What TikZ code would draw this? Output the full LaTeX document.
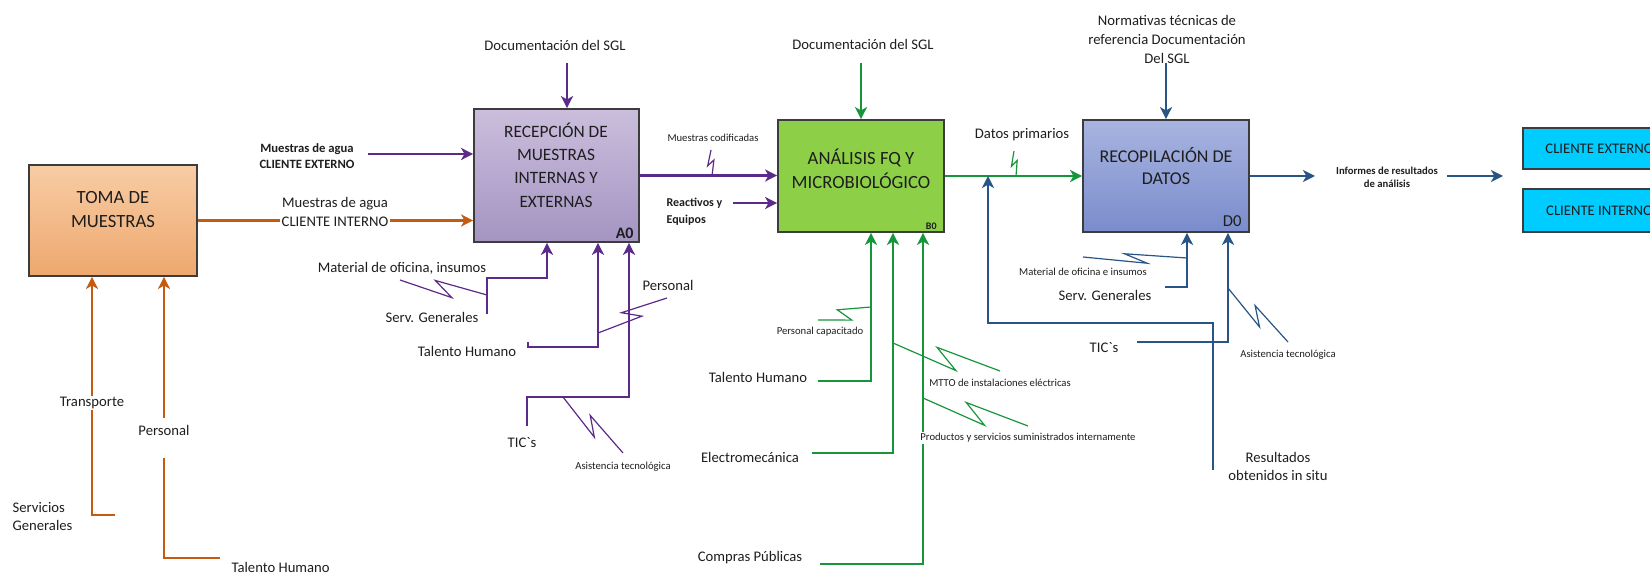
\documentclass[tikz,border=0pt]{standalone}
\usepackage{fontspec}
\setmainfont{Carlito}
\usetikzlibrary{arrows.meta,calc}

\definecolor{cpur}{RGB}{92,42,138}
\definecolor{corg}{RGB}{197,90,17}
\definecolor{cgrn}{RGB}{22,150,58}
\definecolor{cblu}{RGB}{40,84,134}
\definecolor{txt}{RGB}{30,30,30}
\definecolor{edge}{RGB}{60,60,60}
\definecolor{tomaTop}{RGB}{248,204,164}
\definecolor{tomaBot}{RGB}{237,168,110}
\definecolor{recTop}{RGB}{202,190,220}
\definecolor{recBot}{RGB}{164,148,194}
\definecolor{anaFill}{RGB}{141,208,72}
\definecolor{recoTop}{RGB}{168,180,224}
\definecolor{recoBot}{RGB}{122,140,204}
\definecolor{cliFill}{RGB}{0,204,255}

% squiggle ("lightning") that ties a label to its line
\newcommand\zz[3][9]{\draw[sq] (#2) -- ($(#2)!0.62!-#1:(#3)$) -- ($(#2)!0.40!#1:(#3)$) -- (#3);}

\begin{document}
\begin{tikzpicture}[x=0.75pt,y=-0.75pt,
  box/.style={draw=edge,line width=1.3pt,inner sep=0pt},
  ttl/.style={text=txt,align=center,inner sep=0pt},
  lbl/.style={text=txt,font=\fontsize{11}{14}\selectfont,inner sep=1pt,align=center},
  wlbl/.style={lbl,fill=white},
  sml/.style={text=txt,font=\fontsize{8}{10}\selectfont,inner sep=1pt,align=center},
  smb/.style={text=txt,font=\bfseries\fontsize{9}{12.5}\selectfont,inner sep=1pt,align=left},
  wire/.style={line width=1.9pt},
  arr/.style={wire,-{Stealth[length=9pt,width=9pt,inset=2.5pt]}},
  sq/.style={line width=0.9pt},
  P/.style={draw=cpur,color=cpur},
  O/.style={draw=corg,color=corg},
  G/.style={draw=cgrn,color=cgrn},
  B/.style={draw=cblu,color=cblu}]
\useasboundingbox (0,0) rectangle (1650,573);

% ---------- activity boxes ----------
\node[box,minimum width=126pt,minimum height=83.25pt,top color=tomaTop,bottom color=tomaBot] (toma) at (113,220.5) {};
\node[ttl,font=\fontsize{14}{18}\selectfont] (tomaT) at (113,210) {TOMA DE\\MUESTRAS};

\node[box,minimum width=123.75pt,minimum height=99.75pt,top color=recTop,bottom color=recBot] (a0) at (556.5,175.5) {};
\node[ttl,font=\fontsize{13}{17.5}\selectfont] (a0T) at (556,165) {RECEPCIÓN DE\\MUESTRAS\\INTERNAS Y\\EXTERNAS};
\node[ttl,font=\bfseries\fontsize{12}{14}\selectfont,anchor=south east] (a0C) at ($(a0.south east)+(-6,-4)$) {A0};

\node[box,minimum width=124.5pt,minimum height=84pt,fill=anaFill] (b0) at (861,176) {};
\node[ttl,font=\fontsize{14}{18}\selectfont] (b0T) at (861,169) {ANÁLISIS FQ Y\\MICROBIOLÓGICO};
\node[ttl,font=\bfseries\fontsize{7.5}{9}\selectfont,anchor=south east] (b0C) at ($(b0.south east)+(-8,-3)$) {B0};

\node[box,minimum width=124.5pt,minimum height=84pt,top color=recoTop,bottom color=recoBot] (d0) at (1166,176) {};
\node[ttl,font=\fontsize{13.5}{16.5}\selectfont] (d0T) at (1166,166) {RECOPILACIÓN DE\\DATOS};
\node[ttl,font=\fontsize{12.5}{14}\selectfont,anchor=south east] (d0C) at ($(d0.south east)+(-8,-6)$) {D0};

\begin{scope}
\clip (0,0) rectangle (1650,573);
\node[box,minimum width=114.75pt,minimum height=30.75pt,fill=cliFill,font=\fontsize{11}{13}\selectfont,text=txt] (cliE) at (1599.5,148.5) {CLIENTE EXTERNO};
\node[box,minimum width=114.75pt,minimum height=32.25pt,fill=cliFill,font=\fontsize{11}{13}\selectfont,text=txt] (cliI) at (1599.5,210.5) {CLIENTE INTERNO};
\end{scope}

% ---------- bend points ----------
\coordinate (trF) at (115,515);  \coordinate (trC) at (92,515);
\coordinate (peF) at (220,558);  \coordinate (peC) at (164,558);
\coordinate (peG1) at (164,458); \coordinate (peG2) at (164,418);
\coordinate (ceS) at (368,154);
\coordinate (docAS) at (567,63);
\coordinate (maS) at (487,314);  \coordinate (maK) at (487,278); \coordinate (maK2) at (547,278);
\coordinate (thA1) at (528,342); \coordinate (thA2) at (528,347); \coordinate (thA3) at (598,347);
\coordinate (tiA1) at (527,426); \coordinate (tiA2) at (527,397); \coordinate (tiA3) at (629,397);
\coordinate (reS) at (733,203);
\coordinate (docBS) at (861,63);
\coordinate (thB1) at (818,381); \coordinate (thB2) at (871,381);
\coordinate (emB1) at (812,453); \coordinate (emB2) at (893,453);
\coordinate (cpB1) at (820,564); \coordinate (cpB2) at (923,564);
\coordinate (noS) at (1166,63);
\coordinate (outE) at (1315,176);
\coordinate (inS) at (1447,176); \coordinate (inE) at (1503,176);
\coordinate (rs1) at (1213,470); \coordinate (rs2) at (1213,323); \coordinate (rs3) at (988,323);
\coordinate (sgD1) at (1165,287); \coordinate (sgD2) at (1187,287);
\coordinate (tiD1) at (1137,342); \coordinate (tiD2) at (1228,342);

% ---------- orange connectors ----------
\draw[arr,O] (toma.east) -- (toma.east -| a0.west);
\draw[arr,O] (trF) -- (trC) -- (trC |- toma.south);
\draw[wire,O] (peF) -- (peC) -- (peG1);
\draw[arr,O] (peG2) -- (peG2 |- toma.south);

% ---------- purple connectors ----------
\draw[arr,P] (ceS) -- (ceS -| a0.west);
\draw[arr,P] (docAS) -- (docAS |- a0.north);
\draw[arr,P] (maS) -- (maK) -- (maK2) -- (maK2 |- a0.south);
\draw[arr,P] (thA1) -- (thA2) -- (thA3) -- (thA3 |- a0.south);
\draw[arr,P] (tiA1) -- (tiA2) -- (tiA3) -- (tiA3 |- a0.south);
\draw[arr,P] (a0.east) -- (a0.east -| b0.west);
\draw[arr,P] (reS) -- (reS -| b0.west);

% ---------- green connectors ----------
\draw[arr,G] (docBS) -- (docBS |- b0.north);
\draw[arr,G] (b0.east) -- (b0.east -| d0.west);
\draw[arr,G] (thB1) -- (thB2) -- (thB2 |- b0.south);
\draw[arr,G] (emB1) -- (emB2) -- (emB2 |- b0.south);
\draw[arr,G] (cpB1) -- (cpB2) -- (cpB2 |- b0.south);

% ---------- blue connectors ----------
\draw[arr,B] (noS) -- (noS |- d0.north);
\draw[arr,B] (d0.east) -- (outE);
\draw[arr,B] (inS) -- (inE);
\draw[arr,B] (rs1) -- (rs2) -- (rs3) -- (rs3 |- b0.east);
\draw[arr,B] (sgD1) -- (sgD2) -- (sgD2 |- d0.south);
\draw[arr,B] (tiD1) -- (tiD2) -- (tiD2 |- d0.south);

% ---------- squiggles ----------
\coordinate (zM1) at (400,280);  \coordinate (zM2) at (487,295);
\coordinate (zP1) at (667,298);  \coordinate (zP2) at (598,333);
\coordinate (zT1) at (563,397);  \coordinate (zT2) at (623,453);
\coordinate (zC1) at (711,150);  \coordinate (zC2) at (712,176);
\coordinate (zD1) at (1014,151); \coordinate (zD2) at (1016,176);
\coordinate (zK1) at (818,320);  \coordinate (zK2) at (871,307);
\coordinate (zE1) at (893,343);  \coordinate (zE2) at (1000,371);
\coordinate (zS1) at (923,398);  \coordinate (zS2) at (1028,426);
\coordinate (zI1) at (1083,257); \coordinate (zI2) at (1187,258);
\coordinate (zA1) at (1228,288); \coordinate (zA2) at (1288,342);
\begin{scope}[P]
\zz{zM1}{zM2} \zz{zP1}{zP2} \zz{zT1}{zT2} \zz[14]{zC1}{zC2}
\end{scope}
\begin{scope}[G]
\zz[14]{zD1}{zD2} \zz[14]{zK1}{zK2} \zz{zE1}{zE2} \zz{zS1}{zS2}
\end{scope}
\begin{scope}[B]
\zz[5]{zI1}{zI2} \zz{zA1}{zA2}
\end{scope}

% ---------- labels ----------
\node[wlbl,font=\fontsize{11}{14.25}\selectfont] (lCI) at (335,212) {Muestras de agua\\CLIENTE INTERNO};
\node[smb,font=\bfseries\fontsize{9.5}{12}\selectfont,align=center] (lCE) at (307,156) {Muestras de agua\\CLIENTE EXTERNO};
\node[wlbl] (lTr) at (92,403) {Transporte};
\node[lbl,anchor=west,align=left] (lSG) at (11,516.5) {Servicios\\Generales};
\node[lbl] (lPe) at (164,430) {Personal};
\node[lbl,anchor=west] (lTH) at (230,567) {Talento Humano};

\node[lbl] (lDocA) at (555,45) {Documentación del SGL};
\node[lbl] (lMat) at (402,268) {Material de oficina, insumos};
\node[lbl] (lSGA) at (432,317) {Serv. Generales};
\node[lbl] (lTHA) at (467,351) {Talento Humano};
\node[lbl] (lPeA) at (668,285) {Personal};
\node[lbl] (lTiA) at (522,443) {TIC\textasciigrave s};
\node[sml] (lAsA) at (623,467) {Asistencia tecnológica};

\node[lbl] (lDocB) at (863,44) {Documentación del SGL};
\node[sml] (lMC) at (713,138) {Muestras codificadas};
\node[smb,anchor=west] (lRe) at (665,211.5) {Reactivos y\\Equipos};
\node[lbl] (lDP) at (1022,135) {Datos primarios};
\node[sml] (lPC) at (820,332) {Personal capacitado};
\node[lbl] (lTHB) at (758,377) {Talento Humano};
\node[lbl] (lEM) at (750,457) {Electromecánica};
\node[sml,fill=white] (lMT) at (1000,383) {MTTO de instalaciones eléctricas};
\node[sml,fill=white] (lPS) at (1028,438) {Productos y servicios suministrados internamente};
\node[lbl] (lCP) at (750,558) {Compras Públicas};

\node[lbl,font=\fontsize{11}{14.25}\selectfont] (lNo) at (1167,39.5) {Normativas técnicas de\\referencia Documentación\\Del SGL};
\node[sml] (lMD) at (1083,272) {Material de oficina e insumos};
\node[lbl] (lSGD) at (1105,295) {Serv. Generales};
\node[lbl] (lTiD) at (1104,348) {TIC\textasciigrave s};
\node[sml] (lAsD) at (1288,355) {Asistencia tecnológica};
\node[lbl,font=\fontsize{11}{13.5}\selectfont] (lRS) at (1278,466) {Resultados\\obtenidos in situ};
\node[smb,font=\bfseries\fontsize{8}{9.75}\selectfont,align=center] (lIn) at (1387,177.5) {Informes de resultados\\de análisis};
\end{tikzpicture}
\end{document}
